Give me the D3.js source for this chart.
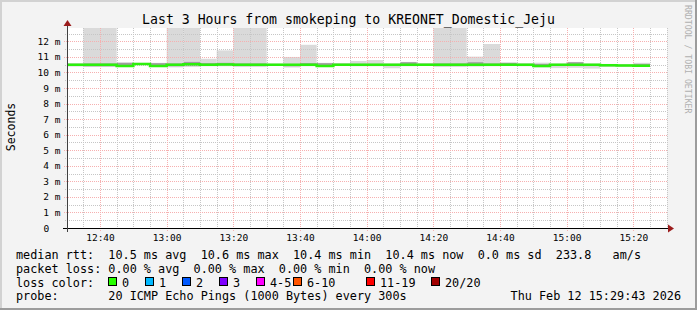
<!DOCTYPE html>
<html>
<head>
<meta charset="utf-8">
<script src="https://cdn.jsdelivr.net/npm/d3@7"></script>
<style>
  html, body { margin: 0; padding: 0; background: #f3f3f3; }
  svg { display: block; }
  text { font-family: "DejaVu Sans Mono", monospace; fill: #000; }
</style>
</head>
<body>
<div id="chart"></div>
<script>
/* CONSTANTS AND GLOBALS */
const width = 697,
  height = 310,
  margin = { top: 28, bottom: 82, left: 67, right: 30 };

/* DATA */
// start of every 5 minute step
const stepStarts = ["12:30", "12:35", "12:40", "12:45", "12:50", "12:55", "13:00", "13:05", "13:10",
  "13:15", "13:20", "13:25", "13:30", "13:35", "13:40", "13:45", "13:50", "13:55", "14:00",
  "14:05", "14:10", "14:15", "14:20", "14:25", "14:30", "14:35", "14:40", "14:45", "14:50",
  "14:55", "15:00", "15:05", "15:10", "15:15", "15:20"];
// median rtt (ms)
const medians = [10.50, 10.50, 10.50, 10.42, 10.55, 10.42, 10.50, 10.53, 10.50, 10.52, 10.50, 10.50,
  10.50, 10.50, 10.50, 10.42, 10.50, 10.50, 10.50, 10.50, 10.50, 10.50, 10.50, 10.50,
  10.50, 10.50, 10.50, 10.50, 10.42, 10.50, 10.50, 10.50, 10.47, 10.45, 10.44];
// smoke: min, lower inner, upper inner, max (ms)
const smokeMin = [10.38, 10.35, 10.35, 10.36, 10.50, 10.36, 10.33, 10.35, 10.40, 10.40, 10.35, 10.35,
  10.42, 10.32, 10.40, 10.36, 10.42, 10.40, 10.40, 10.27, 10.40, 10.42, 10.35, 10.35,
  10.38, 10.40, 10.42, 10.40, 10.33, 10.28, 10.30, 10.25, 10.38, 10.38, 10.36];
const smokeLo = [10.42, 10.40, 10.40, 10.40, 10.52, 10.40, 10.40, 10.42, 10.45, 10.45, 10.42, 10.42,
  10.45, 10.40, 10.45, 10.38, 10.45, 10.45, 10.45, 10.42, 10.45, 10.45, 10.42, 10.42,
  10.44, 10.45, 10.45, 10.44, 10.36, 10.44, 10.42, 10.42, 10.40, 10.40, 10.39];
const smokeHi = [10.55, 10.58, 10.58, 10.62, 10.60, 10.60, 10.58, 10.68, 10.60, 10.62, 10.58, 10.58,
  10.55, 10.55, 10.60, 10.60, 10.56, 10.56, 10.56, 10.55, 10.66, 10.56, 10.58, 10.58,
  10.66, 10.58, 10.62, 10.56, 10.55, 10.55, 10.66, 10.55, 10.52, 10.50, 10.55];
const smokeMax = [10.60, 14.50, 14.50, 10.65, 10.62, 10.62, 14.50, 14.50, 10.88, 11.42, 14.50, 14.50,
  10.57, 11.00, 11.78, 10.62, 10.60, 10.74, 10.80, 10.58, 10.68, 10.60, 14.50, 14.50,
  11.02, 11.83, 10.64, 10.58, 10.63, 10.57, 10.68, 10.57, 10.55, 10.53, 10.62];

const timeRange = ["12:30:06", "15:30:06"];
const yTop = 12.86;
const yTicks = [0, 1, 2, 3, 4, 5, 6, 7, 8, 9, 10, 11, 12];

const titleText = "Last 3 Hours from smokeping to KREONET_Domestic_Jeju";
const statLines = [
  "median rtt:  10.5 ms avg  10.6 ms max  10.4 ms min  10.4 ms now  0.0 ms sd  233.8   am/s",
  "packet loss: 0.00 % avg  0.00 % max  0.00 % min  0.00 % now"
];
const lossLabels = ["0", "1", "2", "3", "4-5", "6-10", "11-19", "20/20"];
const lossColors = ["#26ff00", "#00b8ff", "#0059ff", "#7e00ff", "#ff00ff", "#ff5500", "#ff0000", "#a10000"];
const probeText = "probe:       20 ICMP Echo Pings (1000 Bytes) every 300s";
const stampText = "Thu Feb 12 15:29:43 2026";

// legend box x positions (layout)
const lossBoxX = [108, 145, 182, 219, 256, 293, 366, 431];

const toDate = s => {
  const p = s.split(":").map(Number);
  return new Date(2026, 1, 12, p[0], p[1], p[2] || 0);
};

/* SCALES */
const xScale = d3.scaleTime()
  .domain(timeRange.map(toDate))
  .range([margin.left, width - margin.right]);

const yScale = d3.scaleLinear()
  .domain([0, yTop])
  .range([height - margin.bottom, margin.top]);

const x0 = margin.left, x1 = width - margin.right;
const y0 = height - margin.bottom, y1 = margin.top;

const steps = stepStarts.map((s, i) => ({
  start: toDate(s),
  end: d3.timeMinute.offset(toDate(s), 5),
  med: medians[i],
  min: smokeMin[i],
  lo: smokeLo[i],
  hi: smokeHi[i],
  max: smokeMax[i]
}));

/* SVG */
const svg = d3.select("#chart").append("svg")
  .attr("width", width)
  .attr("height", height);

// canvas + 3d frame
svg.append("rect").attr("width", width).attr("height", height).attr("fill", "#f3f3f3");
svg.append("rect").attr("x", 0).attr("y", 0).attr("width", width).attr("height", 2).attr("fill", "#d2d2d2");
svg.append("rect").attr("x", 0).attr("y", 0).attr("width", 2).attr("height", height).attr("fill", "#d2d2d2");
svg.append("rect").attr("x", 0).attr("y", height - 2).attr("width", width).attr("height", 2).attr("fill", "#9c9c9c");
svg.append("rect").attr("x", width - 2).attr("y", 0).attr("width", 2).attr("height", height).attr("fill", "#9c9c9c");

// plot background
svg.append("rect")
  .attr("x", x0).attr("y", y1)
  .attr("width", x1 - x0).attr("height", y0 - y1)
  .attr("fill", "#ffffff");

svg.append("clipPath").attr("id", "plotClip")
  .append("rect")
  .attr("x", x0).attr("y", y1)
  .attr("width", x1 - x0).attr("height", y0 - y1);

// smoke
const smokeG = svg.append("g").attr("clip-path", "url(#plotClip)");

smokeG.selectAll("rect.outer")
  .data(steps)
  .join("rect")
  .attr("class", "outer")
  .attr("x", d => xScale(d.start))
  .attr("width", d => xScale(d.end) - xScale(d.start))
  .attr("y", d => yScale(d.max))
  .attr("height", d => yScale(d.min) - yScale(d.max))
  .attr("fill", "#dadada");

smokeG.selectAll("rect.inner")
  .data(steps)
  .join("rect")
  .attr("class", "inner")
  .attr("x", d => xScale(d.start))
  .attr("width", d => xScale(d.end) - xScale(d.start))
  .attr("y", d => yScale(d.hi))
  .attr("height", d => yScale(d.lo) - yScale(d.hi))
  .attr("fill", "#9e9e9e");

// GRID (on top of the smoke)
const gridG = svg.append("g");
const tStart = xScale.domain()[0], tEnd = xScale.domain()[1];
const minorTimes = d3.timeMinute.every(5).range(tStart, tEnd);
const majorTimes = d3.timeMinute.every(20).range(tStart, tEnd);
const minorVals = d3.range(0.5, yTop, 0.5).filter(v => v % 1 !== 0);
const majorVals = yTicks.filter(v => v > 0);

gridG.selectAll("line.vminor")
  .data(minorTimes.filter(t => t.getMinutes() % 20 !== 0))
  .join("line")
  .attr("x1", d => Math.round(xScale(d)) + 0.5)
  .attr("x2", d => Math.round(xScale(d)) + 0.5)
  .attr("y1", y1).attr("y2", y0 + 2)
  .attr("stroke", "#c6c6c6")
  .attr("stroke-dasharray", "1,1");

gridG.selectAll("line.hminor")
  .data(minorVals)
  .join("line")
  .attr("y1", d => Math.round(yScale(d)) + 0.5)
  .attr("y2", d => Math.round(yScale(d)) + 0.5)
  .attr("x1", x0 - 2).attr("x2", x1)
  .attr("stroke", "#c6c6c6")
  .attr("stroke-dasharray", "1,1");

gridG.selectAll("line.vmajor")
  .data(majorTimes)
  .join("line")
  .attr("x1", d => Math.round(xScale(d)) + 0.5)
  .attr("x2", d => Math.round(xScale(d)) + 0.5)
  .attr("y1", y1).attr("y2", y0 + 3)
  .attr("stroke", "#f6b0b0")
  .attr("stroke-dasharray", "1,1");

gridG.selectAll("line.hmajor")
  .data(majorVals)
  .join("line")
  .attr("y1", d => Math.round(yScale(d)) + 0.5)
  .attr("y2", d => Math.round(yScale(d)) + 0.5)
  .attr("x1", x0 - 3).attr("x2", x1)
  .attr("stroke", "#f6b0b0")
  .attr("stroke-dasharray", "1,1");

// MEDIAN LINE (loss color 0)
const medPts = [];
steps.forEach(d => { medPts.push([d.start, d.med]); medPts.push([d.end, d.med]); });
svg.append("g").attr("clip-path", "url(#plotClip)")
  .append("path")
  .datum(medPts)
  .attr("fill", "none")
  .attr("stroke", "#2cf00c")
  .attr("stroke-width", 2.5)
  .attr("d", d3.line().x(d => xScale(d[0])).y(d => yScale(d[1])));

// AXES
const xAxis = d3.axisBottom(xScale)
  .ticks(d3.timeMinute.every(20))
  .tickFormat(d3.timeFormat("%H:%M"))
  .tickSize(0)
  .tickPadding(6.5);

svg.append("g")
  .attr("transform", `translate(0, ${y0})`)
  .call(xAxis)
  .call(g => g.select(".domain").remove())
  .selectAll("text")
  .attr("font-size", "9.5px")
  .attr("font-family", "DejaVu Sans Mono, monospace");

const yAxis = d3.axisLeft(yScale)
  .tickValues(yTicks)
  .tickFormat(d => d === 0 ? "0" : d + " m")
  .tickSize(0)
  .tickPadding(6.5);

svg.append("g")
  .attr("transform", `translate(${x0}, 0)`)
  .call(yAxis)
  .call(g => g.select(".domain").remove())
  .selectAll("text")
  .attr("font-size", "9.5px")
  .attr("font-family", "DejaVu Sans Mono, monospace")
  .attr("dx", d => d === 0 ? -11.4 : 0);

// axis lines with arrows
svg.append("line")
  .attr("x1", x0 - 4).attr("x2", x1 + 3)
  .attr("y1", y0 + 0.5).attr("y2", y0 + 0.5)
  .attr("stroke", "#000");
svg.append("line")
  .attr("x1", x0 + 0.5).attr("x2", x0 + 0.5)
  .attr("y1", y0 + 4).attr("y2", y1 - 4)
  .attr("stroke", "#404040");
svg.append("path")
  .attr("d", `M${x1 + 1},${y0 - 3.5} L${x1 + 7},${y0 + 0.5} L${x1 + 1},${y0 + 4.5} Z`)
  .attr("fill", "#9b1c1c");
svg.append("path")
  .attr("d", `M${x0 - 3.5},${y1 - 2} L${x0 + 0.5},${y1 - 8} L${x0 + 4.5},${y1 - 2} Z`)
  .attr("fill", "#9b1c1c");

// TITLE
svg.append("text")
  .attr("x", 348.5).attr("y", 24)
  .attr("text-anchor", "middle")
  .attr("font-size", "13.2px")
  .text(titleText);

// vertical label
svg.append("text")
  .attr("transform", `translate(15, 127) rotate(-90)`)
  .attr("text-anchor", "middle")
  .attr("font-size", "11.5px")
  .text("Seconds");

// watermark
svg.append("text")
  .attr("transform", `translate(684.5, 5) rotate(90)`)
  .attr("font-size", "8.2px")
  .style("fill", "#b0b0b0")
  .text("RRDTOOL / TOBI OETIKER");

// LEGEND
const legFont = "11.8px";
svg.selectAll("text.stat")
  .data(statLines)
  .join("text")
  .attr("class", "stat")
  .attr("x", 16)
  .attr("y", (d, i) => 259 + i * 13.8)
  .attr("font-size", legFont)
  .attr("xml:space", "preserve")
  .style("white-space", "pre")
  .text(d => d);

svg.append("text")
  .attr("x", 16).attr("y", 286.6)
  .attr("font-size", legFont)
  .text("loss color:");

const lossG = svg.append("g");
lossG.selectAll("rect")
  .data(lossLabels)
  .join("rect")
  .attr("x", (d, i) => lossBoxX[i] + 0.5)
  .attr("y", 277.5)
  .attr("width", 8)
  .attr("height", 8)
  .attr("fill", (d, i) => lossColors[i])
  .attr("stroke", "#000");
lossG.selectAll("text")
  .data(lossLabels)
  .join("text")
  .attr("x", (d, i) => lossBoxX[i] + 14)
  .attr("y", 286.6)
  .attr("font-size", legFont)
  .text(d => d);

svg.append("text")
  .attr("x", 16).attr("y", 300.4)
  .attr("font-size", legFont)
  .attr("xml:space", "preserve")
  .style("white-space", "pre")
  .text(probeText);

svg.append("text")
  .attr("x", 681).attr("y", 300.4)
  .attr("text-anchor", "end")
  .attr("font-size", legFont)
  .text(stampText);
</script>
</body>
</html>
